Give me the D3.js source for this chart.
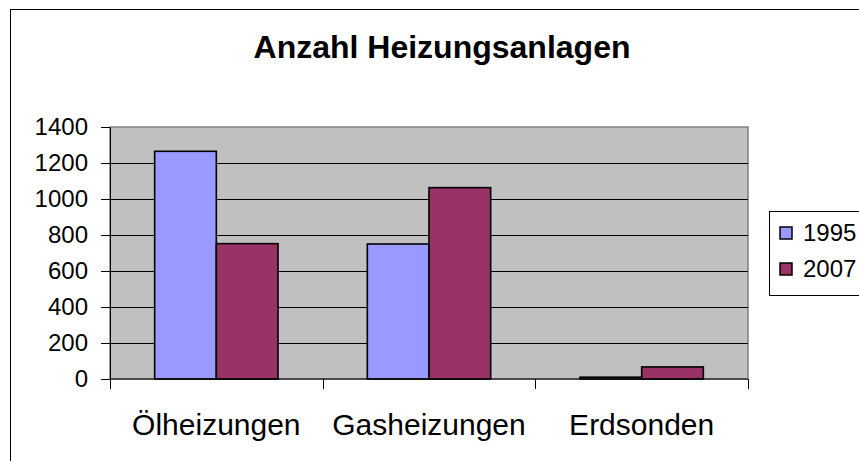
<!DOCTYPE html>
<html>
<head>
<meta charset="utf-8">
<script src="https://cdn.jsdelivr.net/npm/d3@7.9.0/dist/d3.min.js"></script>
<style>
  html, body { margin: 0; padding: 0; background: #fff; }
  svg { display: block; font-family: "Liberation Sans", Arial, sans-serif; }
</style>
</head>
<body>
<svg width="859" height="461"></svg>
<script>
// === Data ===
const categories = ['Ölheizungen', 'Gasheizungen', 'Erdsonden'];
const seriesNames = ['1995', '2007'];
const values1995 = [1265, 750, 10];
const values2007 = [752, 1063, 67];
const yTicks = [0, 200, 400, 600, 800, 1000, 1200, 1400];
const seriesColors = ['#9999FF', '#993366'];

const seriesValues = [values1995, values2007];

const svg = d3.select('svg');

// outer chart border (runs off the right/bottom edge like in the original)
svg.append('rect')
  .attr('x', 10.5).attr('y', 9.5)
  .attr('width', 900).attr('height', 500)
  .attr('fill', '#fff').attr('stroke', '#000').attr('stroke-width', 1);

// title
svg.append('text')
  .attr('x', 442).attr('y', 58)
  .attr('text-anchor', 'middle')
  .attr('font-size', 32).attr('font-weight', 'bold')
  .text('Anzahl Heizungsanlagen');

// === Scales ===
const plot = { left: 110, right: 748, top: 127, bottom: 379 };

const x0 = d3.scaleBand()
  .domain(categories)
  .range([plot.left, plot.right]);

const groupWidth = x0.bandwidth() * 0.58;
const x1 = d3.scaleBand()
  .domain(seriesNames)
  .range([(x0.bandwidth() - groupWidth) / 2, (x0.bandwidth() + groupWidth) / 2]);

const y = d3.scaleLinear()
  .domain([0, 1400])
  .range([plot.bottom, plot.top]);

// plot area background
svg.append('rect')
  .attr('x', plot.left).attr('y', y(1400))
  .attr('width', plot.right - plot.left).attr('height', y(0) - y(1400))
  .attr('fill', '#C0C0C0').attr('stroke', '#808080').attr('stroke-width', 1.5);

// gridlines
svg.append('g')
  .selectAll('line')
  .data(yTicks.filter(t => t > 0 && t < 1400))
  .join('line')
  .attr('x1', plot.left).attr('x2', plot.right)
  .attr('y1', d => Math.round(y(d)) + 0.5).attr('y2', d => Math.round(y(d)) + 0.5)
  .attr('stroke', '#000').attr('stroke-width', 1);

// === Bars ===
const rows = categories.map((c, i) => ({
  category: c,
  bars: seriesNames.map((s, j) => ({ series: s, value: seriesValues[j][i], idx: j }))
}));

svg.append('g')
  .selectAll('g')
  .data(rows)
  .join('g')
  .attr('transform', d => `translate(${x0(d.category)},0)`)
  .selectAll('rect')
  .data(d => d.bars)
  .join('rect')
  .attr('x', d => x1(d.series))
  .attr('y', d => y(d.value))
  .attr('width', x1.bandwidth())
  .attr('height', d => y(0) - y(d.value))
  .attr('fill', d => seriesColors[d.idx])
  .attr('stroke', '#000').attr('stroke-width', 1.6);

// === Axes ===
const yAxis = svg.append('g')
  .attr('transform', `translate(${plot.left},0)`)
  .call(d3.axisLeft(y).tickValues(yTicks).tickFormat(d3.format('d'))
    .tickSizeInner(9).tickSizeOuter(0).tickPadding(13));
yAxis.select('.domain').attr('stroke', '#000');
yAxis.selectAll('text').attr('font-size', 24).attr('fill', '#000')
  .attr('font-family', '"Liberation Sans", Arial, sans-serif');

const xAxis = svg.append('g')
  .attr('transform', `translate(0,${plot.bottom})`)
  .call(d3.axisBottom(x0).tickSize(0).tickPadding(35));
xAxis.select('.domain').remove();
xAxis.selectAll('text').attr('font-size', 30).attr('fill', '#000')
  .attr('font-family', '"Liberation Sans", Arial, sans-serif');

// x axis line and category boundary ticks
svg.append('line')
  .attr('x1', plot.left).attr('x2', plot.right)
  .attr('y1', plot.bottom).attr('y2', plot.bottom)
  .attr('stroke', '#000').attr('stroke-width', 1);

const boundaries = categories.map(c => x0(c)).concat([x0.range()[1]]);
svg.append('g')
  .selectAll('line')
  .data(boundaries)
  .join('line')
  .attr('x1', d => Math.round(d) + 0.5).attr('x2', d => Math.round(d) + 0.5)
  .attr('y1', plot.bottom).attr('y2', plot.bottom + 10)
  .attr('stroke', '#000').attr('stroke-width', 1);

// === Legend ===
const legend = svg.append('g');
legend.append('rect')
  .attr('x', 769.5).attr('y', 211.5)
  .attr('width', 120).attr('height', 84)
  .attr('fill', '#fff').attr('stroke', '#000').attr('stroke-width', 1);

const items = legend.selectAll('g.item')
  .data(seriesNames)
  .join('g')
  .attr('class', 'item')
  .attr('transform', (d, i) => `translate(780,${233 + i * 36})`);

items.append('rect')
  .attr('x', 0).attr('y', -6)
  .attr('width', 12).attr('height', 12)
  .attr('fill', (d, i) => seriesColors[i])
  .attr('stroke', '#000').attr('stroke-width', 1.5);

items.append('text')
  .attr('x', 23).attr('y', 0).attr('dy', '0.35em')
  .attr('font-size', 24)
  .text(d => d);
</script>
</body>
</html>
